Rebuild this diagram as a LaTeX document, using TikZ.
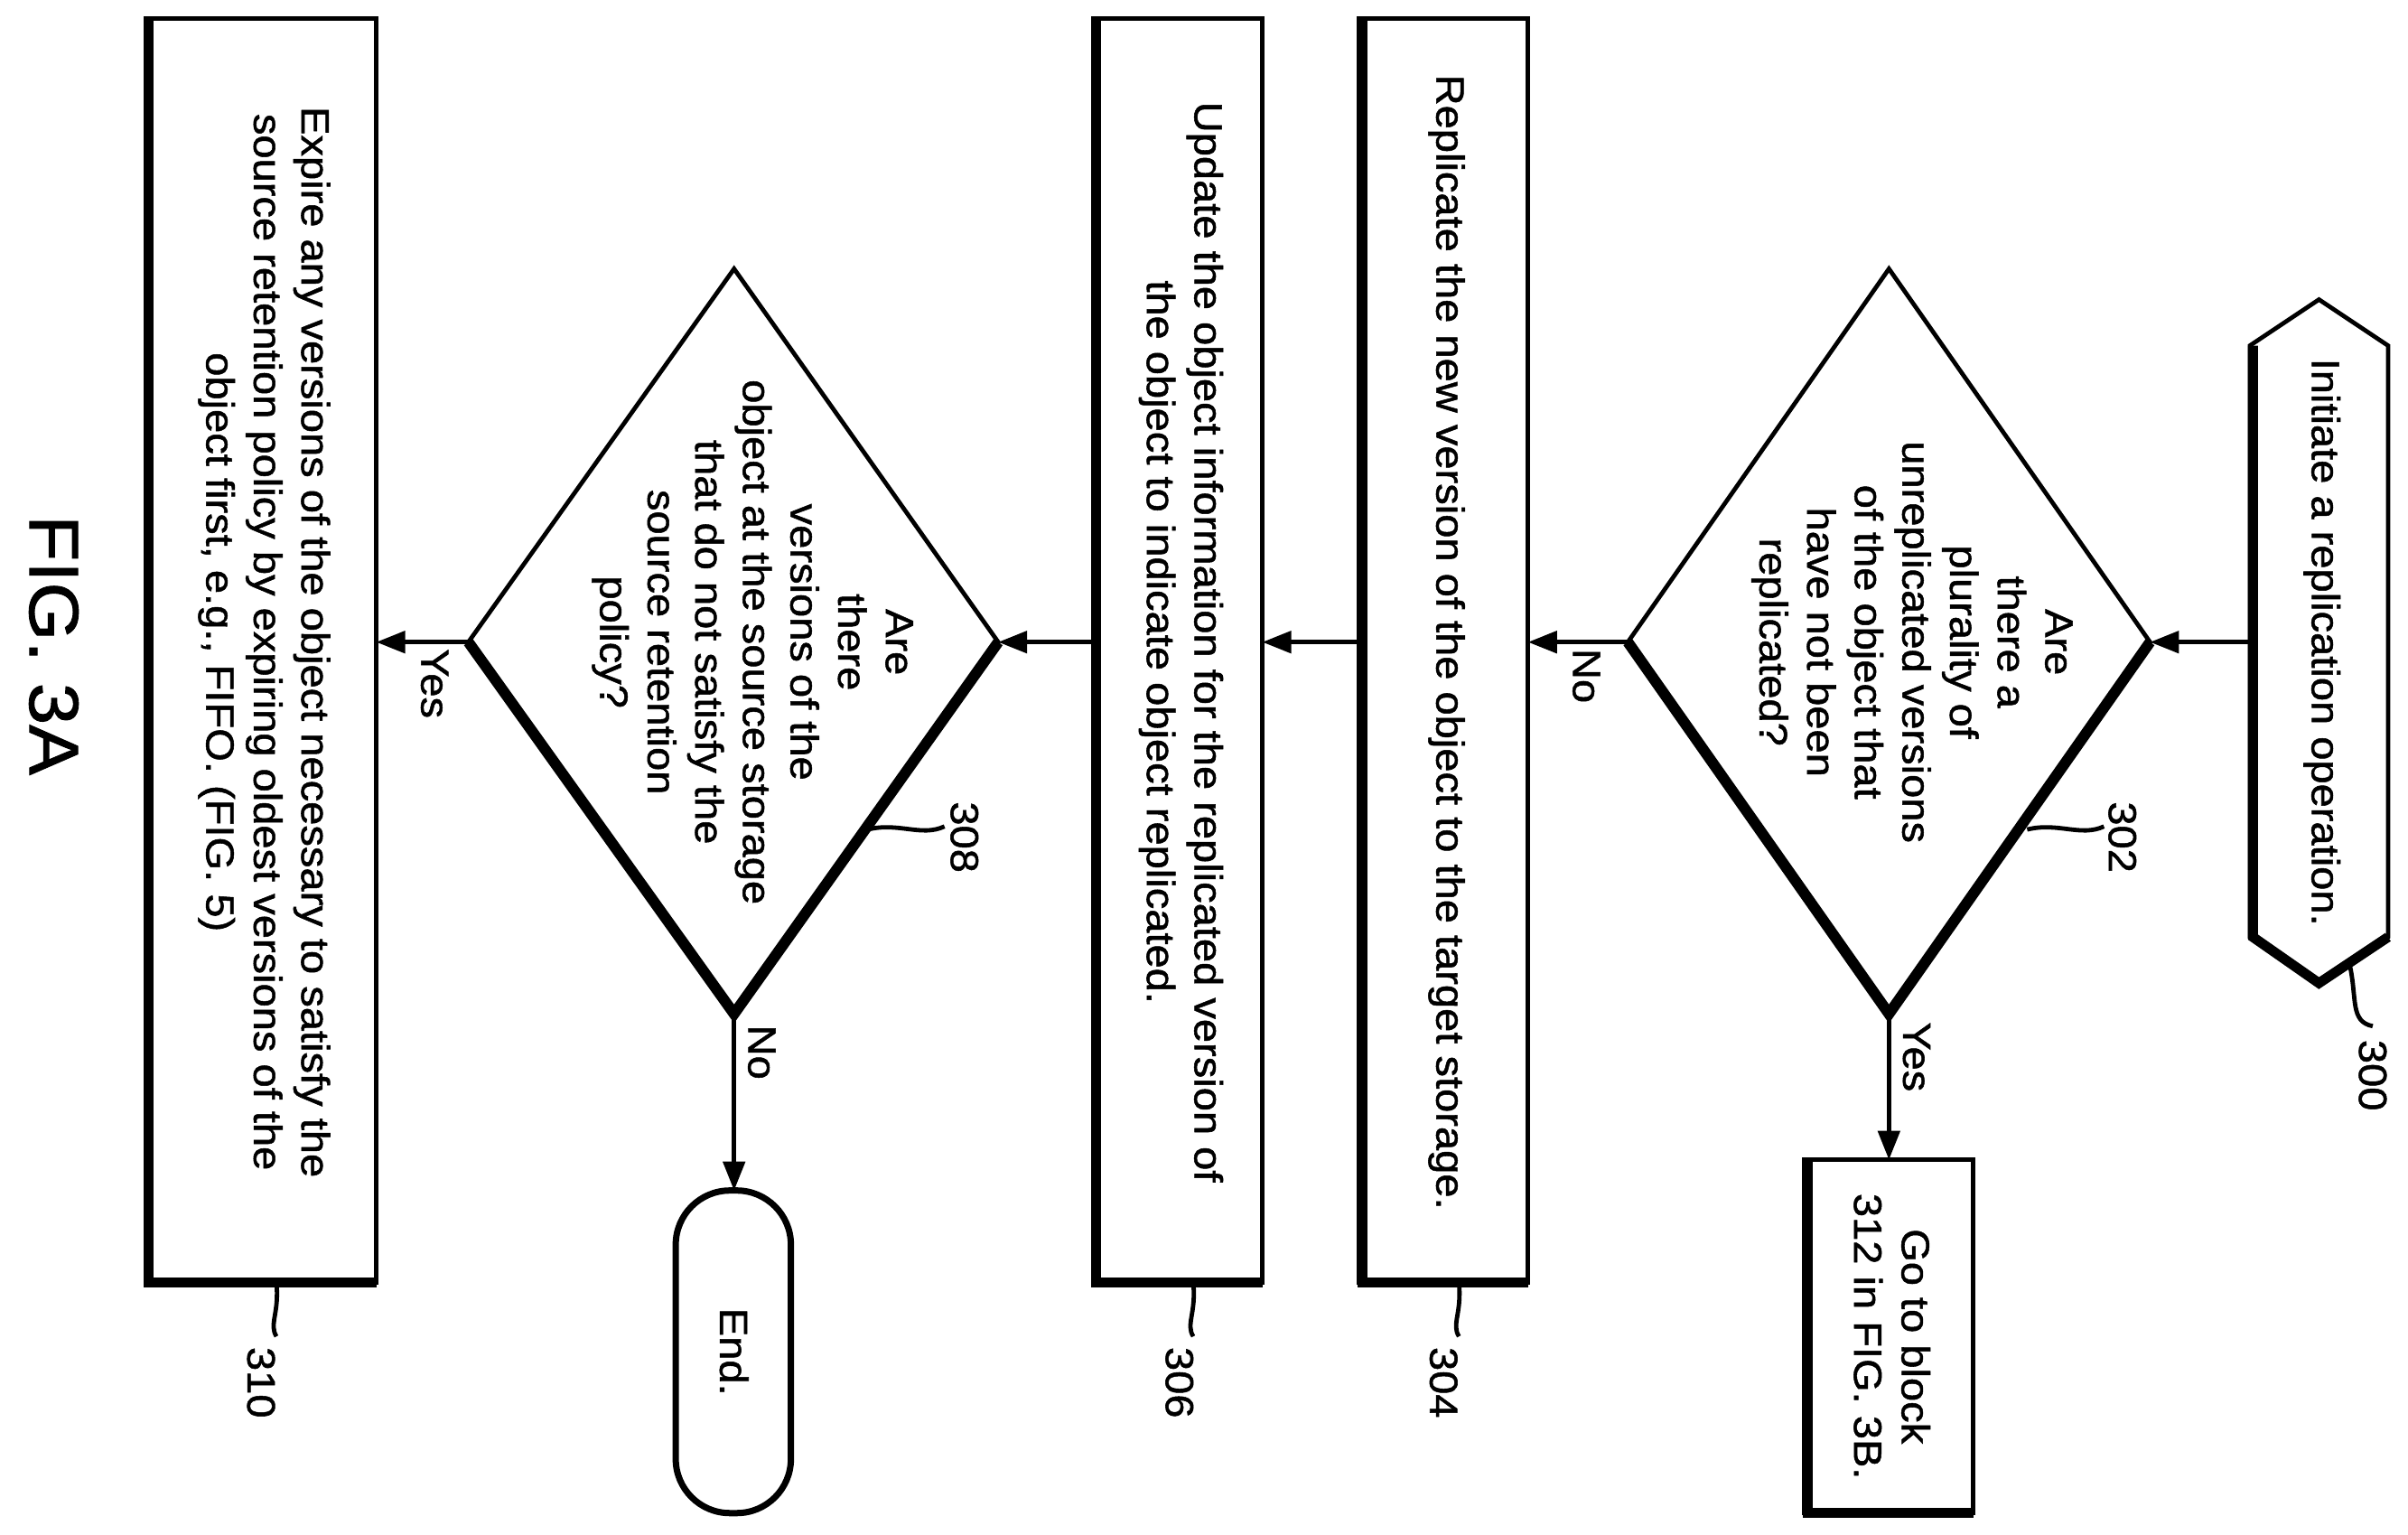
\documentclass[tikz,border=0pt]{standalone}
\usepackage{fontspec}
\setmainfont{Liberation Sans}[FakeStretch=1.08,FakeBold=1.2]
\usetikzlibrary{arrows.meta,shapes.geometric}
\begin{document}
\begin{tikzpicture}[x=0.85mm,y=-0.85mm,line width=2.6mm,
  txt/.style={rotate=-90,align=center,font=\fontsize{62}{75}\selectfont,inner sep=0},
  lab/.style={rotate=-90,font=\fontsize{62}{75}\selectfont,inner sep=0},
  arr/.style={-{Triangle[length=16mm,width=12mm]},line width=2.4mm},
  thin/.style={line width=2.4mm},
  thick/.style={line width=5.5mm}]
\useasboundingbox (0,0) rectangle (1568,999);
% 300
\draw[thin] (1465,225) -- (1510,195) -- (1555,225) -- (1555,610) -- (1510,640) -- (1465,610) -- cycle;
\draw[thick] (1467,225) -- (1467,610) -- (1510,640) -- (1555,610);
\node[txt] (t300) at (1512,418) {Initiate a replication operation.};
\coordinate (h300) at (1465,418);
% 302
\draw[thin] (1400,418) -- (1230,175) -- (1060,418) -- (1230,660) -- cycle;
\draw[line width=6mm] (1060,418) -- (1230,660) -- (1400,418);
\coordinate (d302r) at (1400,418); \coordinate (d302l) at (1060,418); \coordinate (d302b) at (1230,660);
\node[txt] at (1245,418) {Are\\there a\\plurality of\\unreplicated versions\\of the object that\\have not been\\replicated?};
% go to
\draw[thin] (1175,755) rectangle (1285,985);
\draw[thick] (1177,755) -- (1177,985) -- (1285,985);
\node[txt] at (1232,870) {Go to block\\312 in FIG. 3B.};
\coordinate (g) at (1230,755);
% 304
\draw[thin] (885,12) rectangle (995,835);
\draw[thick] (887,12) -- (887,835) -- (995,835);
\node[txt] at (942,418) {Replicate the new version of the object to the target storage.};
% 306
\draw[thin] (712,12) rectangle (822,835);
\draw[thick] (714,12) -- (714,835) -- (822,835);
\node[txt] at (769,418) {Update the object information for the replicated version of\\the object to indicate object replicated.};
% 308
\draw[thin] (650,418) -- (478,175) -- (305,418) -- (478,660) -- cycle;
\draw[line width=6mm] (305,418) -- (478,660) -- (650,418);
\node[txt] at (490,418) {Are\\there\\versions of the\\object at the source storage\\that do not satisfy the\\source retention\\policy?};
% End
\draw[line width=3.5mm,rounded corners=30mm] (440,775) rectangle (515,985);
\node[txt] at (478,880) {End.};
% 310
\draw[thin] (95,12) rectangle (245,835);
\draw[thick] (97,12) -- (97,835) -- (245,835);
\node[txt] at (172,418) {Expire any versions of the object necessary to satisfy the\\source retention policy by expiring oldest versions of the\\object first, e.g., FIFO. (FIG. 5)};
% arrows
\draw[arr] (h300) -- (d302r);
\draw[arr] (d302b) -- (g);
\draw[arr] (d302l) -- (995,418);
\draw[arr] (885,418) -- (822,418);
\draw[arr] (712,418) -- (650,418);
\draw[arr] (478,660) -- (478,775);
\draw[arr] (305,418) -- (245,418);
\node[lab] at (1248,688) {Yes};
\node[lab] at (1033,440) {No};
\node[lab] at (496,685) {No};
\node[lab] at (283,445) {Yes};
% ref labels
\draw[thin] (1530,628) .. controls (1535,650) and (1530,665) .. (1545,668);
\node[lab] at (1545,700) {300};
\draw[thin] (1320,540) .. controls (1340,535) and (1355,545) .. (1370,538);
\node[lab] at (1382,545) {302};
\draw[thin] (950,835) .. controls (952,855) and (945,862) .. (950,870);
\node[lab] at (940,900) {304};
\draw[thin] (777,835) .. controls (779,855) and (772,862) .. (777,870);
\node[lab] at (768,900) {306};
\draw[thin] (565,540) .. controls (585,535) and (600,545) .. (615,538);
\node[lab] at (628,545) {308};
\draw[thin] (180,835) .. controls (182,855) and (175,862) .. (180,870);
\node[lab] at (170,900) {310};
\node[rotate=-90,font=\fontsize{110}{120}\selectfont,inner sep=0] (fig) at (35,420) {FIG. 3A};
\end{tikzpicture}
\end{document}
